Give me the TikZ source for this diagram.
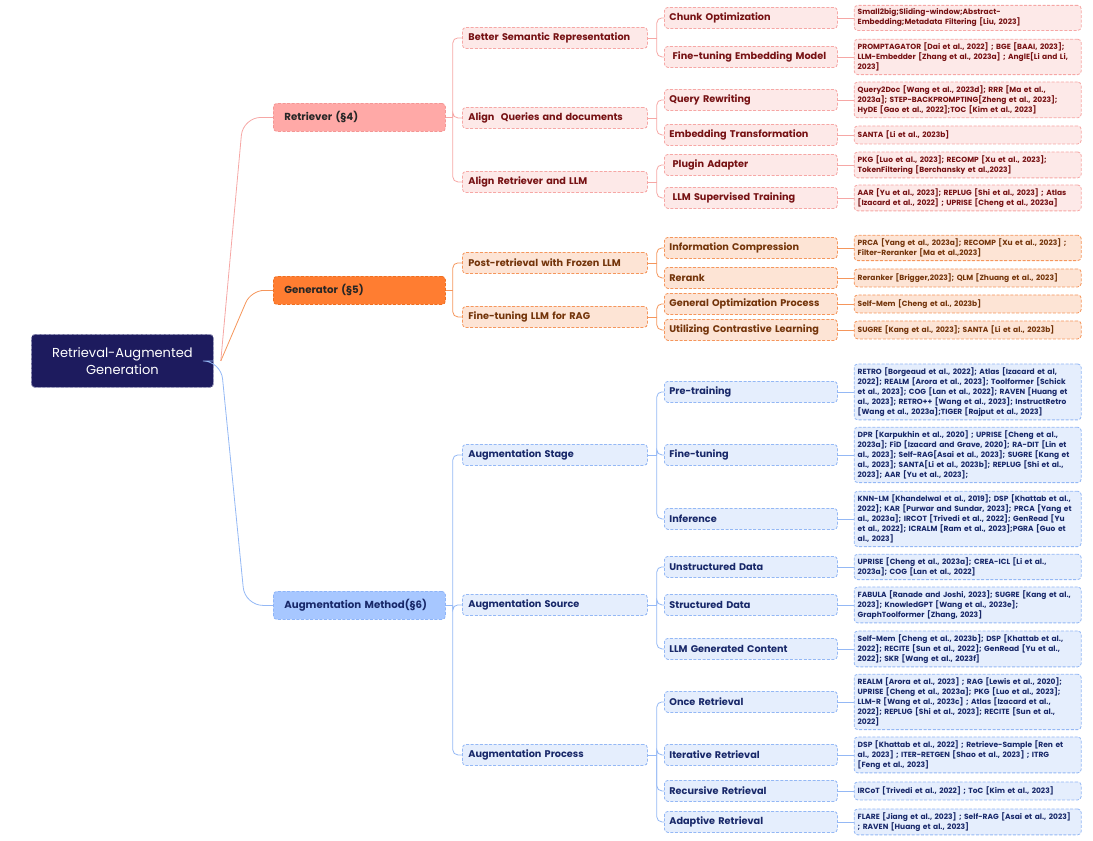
\documentclass[tikz,border=0pt]{standalone}
\usepackage{fontspec}
\setmainfont{Poppins}
\usepackage{tikz}
\usetikzlibrary{calc}

\definecolor{rootFill}{RGB}{29,27,94}
\definecolor{rootLine}{RGB}{150,150,185}
\definecolor{retTop}{RGB}{255,169,167}
\definecolor{retTopLine}{RGB}{244,150,148}
\definecolor{retFill}{RGB}{253,233,232}
\definecolor{retLine}{RGB}{246,167,165}
\definecolor{retText}{RGB}{118,17,19}
\definecolor{genTop}{RGB}{255,125,49}
\definecolor{genTopLine}{RGB}{240,110,30}
\definecolor{genFill}{RGB}{253,228,213}
\definecolor{genLine}{RGB}{245,150,92}
\definecolor{genText}{RGB}{115,52,10}
\definecolor{augTop}{RGB}{167,199,255}
\definecolor{augTopLine}{RGB}{141,180,248}
\definecolor{augFill}{RGB}{229,238,253}
\definecolor{augLine}{RGB}{148,184,245}
\definecolor{augText}{RGB}{24,40,105}

\begin{document}
\begin{tikzpicture}[x=1pt,y=1pt,yscale=-1,
  box/.style={rectangle, rounded corners=3.5pt, dash pattern=on 3pt off 1.6pt, line width=0.8pt, anchor=north west, align=left, inner ysep=0pt},
  topbox/.style={box, text width=150pt, inner xsep=11pt, minimum height=28pt, font=\bfseries\fontsize{10.2}{12}\selectfont},
  midbox/.style={box, text width=173pt, inner xsep=6pt, minimum height=21pt, font=\bfseries\fontsize{9.7}{11}\selectfont},
  subbox/.style={box, text width=163pt, inner xsep=5pt, minimum height=21pt, font=\bfseries\fontsize{9.7}{11}\selectfont},
  leafbox/.style={box, anchor=west, text width=220pt, inner xsep=3.5pt, inner ysep=3.5pt, minimum height=18pt, font=\bfseries\fontsize{7.5}{10}\selectfont},
  topR/.style={topbox, fill=retTop, draw=retTopLine, text=black!85},
  topO/.style={topbox, fill=genTop, draw=genTopLine, text=black!85},
  topB/.style={topbox, fill=augTop, draw=augTopLine, text=augText},
  boxR/.style={fill=retFill, draw=retLine, text=retText},
  boxO/.style={fill=genFill, draw=genLine, text=genText},
  boxB/.style={fill=augFill, draw=augLine, text=augText},
  conR/.style={draw=retLine, line width=0.8pt, rounded corners=5pt},
  conO/.style={draw=genLine, line width=0.8pt, rounded corners=5pt},
  conB/.style={draw=augLine, line width=0.8pt, rounded corners=5pt}]
\useasboundingbox (0,0) rectangle (1093,841);

% Root
\node[box, fill=rootFill, draw=rootLine, text=white, align=center, text width=170pt, inner xsep=6pt, minimum height=53pt, font=\fontsize{13}{16.5}\selectfont] (root) at (31,334) {Retrieval-Augmented\\Generation};

% Level 1
\node[topR] (ret) at (273,103) {Retriever (§4)};
\node[topO] (gen) at (273,276) {Generator (§5)};
\node[topB] (aug) at (273,591) {Augmentation Method(§6)};

\coordinate (rootJ) at ($(root.east)+(7,0)$);
\draw[conB, rounded corners=18pt] (root.east) -- (rootJ) -- ([xshift=-28pt]aug.west) -- (aug.west);
\draw[conR, rounded corners=18pt] (rootJ) -- ([xshift=-30pt]ret.west) -- (ret.west);
\draw[conO, rounded corners=13pt] (rootJ) -- ([xshift=-22pt]gen.west) -- (gen.west);

%%% Retriever branch
\node[midbox, boxR] (bsr) at (462,27) {Better Semantic Representation};
\node[midbox, boxR] (aqd) at (462,107) {Align\ \ Queries and documents};
\node[midbox, boxR] (arl) at (462,171) {Align Retriever and LLM};

\node[subbox, boxR] (chunk) at (664,7) {Chunk Optimization};
\node[subbox, boxR] (ftemb) at (664,46) {\ Fine-tuning Embedding Model};
\node[subbox, boxR] (qrw) at (664,89) {Query Rewriting};
\node[subbox, boxR] (embt) at (664,124) {Embedding Transformation};
\node[subbox, boxR] (plug) at (664,154) {\ Plugin Adapter};
\node[subbox, boxR] (llmst) at (664,187) {\ LLM Supervised Training};

\node[leafbox, boxR] (lChunk) at ([xshift=16pt]chunk.east) {Small2big;Sliding-window;Abstract-\\Embedding;Metadata Filtering [Liu, 2023]};
\node[leafbox, boxR] (lFtemb) at ([xshift=16pt]ftemb.east) {PROMPTAGATOR [Dai et al., 2022] ; BGE [BAAI, 2023];\\LLM-Embedder [Zhang et al., 2023a] ; AnglE[Li and Li,\\2023]};
\node[leafbox, boxR] (lQrw) at ([xshift=16pt]qrw.east) {Query2Doc [Wang et al., 2023d]; RRR [Ma et al.,\\2023a]; STEP-BACKPROMPTING[Zheng et al., 2023];\\HyDE [Gao et al., 2022];TOC [Kim et al., 2023]};
\node[leafbox, boxR] (lEmbt) at ([xshift=16pt]embt.east) {SANTA [Li et al., 2023b]};
\node[leafbox, boxR] (lPlug) at ([xshift=16pt]plug.east) {PKG [Luo et al., 2023]; RECOMP [Xu et al., 2023];\\TokenFiltering [Berchansky et al.,2023]};
\node[leafbox, boxR] (lLlmst) at ([xshift=16pt]llmst.east) {AAR [Yu et al., 2023]; REPLUG [Shi et al., 2023] ; Atlas\\{[Izacard et al., 2022]} ; UPRISE [Cheng et al., 2023a]};

\draw[conR] (ret.east) -- ++(7,0) coordinate (retJ);
\foreach \c in {bsr,aqd,arl} \draw[conR] (retJ) |- (\c.west);
\draw[conR] (bsr.east) -- ++(9,0) coordinate (bsrJ);
\foreach \c in {chunk,ftemb} \draw[conR] (bsrJ) |- (\c.west);
\draw[conR] (aqd.east) -- ++(9,0) coordinate (aqdJ);
\foreach \c in {qrw,embt} \draw[conR] (aqdJ) |- (\c.west);
\draw[conR] (arl.east) -- ++(9,0) coordinate (arlJ);
\foreach \c in {plug,llmst} \draw[conR] (arlJ) |- (\c.west);
\foreach \a/\b in {chunk/lChunk,ftemb/lFtemb,qrw/lQrw,embt/lEmbt,plug/lPlug,llmst/lLlmst}
  \draw[conR] (\a.east) -- (\b.west);

%%% Generator branch
\node[midbox, boxO] (post) at (462,252) {Post-retrieval with Frozen LLM};
\node[midbox, boxO] (ftllm) at (462,306) {Fine-tuning LLM for RAG};

\node[subbox, boxO] (infc) at (664,237) {Information Compression};
\node[subbox, boxO] (rerank) at (664,267) {Rerank};
\node[subbox, boxO] (genopt) at (664,293) {General Optimization Process};
\node[subbox, boxO] (contr) at (664,319) {Utilizing Contrastive Learning};

\node[leafbox, boxO] (lInfc) at ([xshift=16pt]infc.east) {PRCA [Yang et al., 2023a]; RECOMP [Xu et al., 2023] ;\\Filter-Reranker [Ma et al.,2023]};
\node[leafbox, boxO] (lRerank) at ([xshift=16pt]rerank.east) {Reranker [Brigger,2023]; QLM [Zhuang et al., 2023]};
\node[leafbox, boxO] (lGenopt) at ([xshift=16pt]genopt.east) {Self-Mem [Cheng et al., 2023b]};
\node[leafbox, boxO] (lContr) at ([xshift=16pt]contr.east) {SUGRE [Kang et al., 2023]; SANTA [Li et al., 2023b]};

\draw[conO] (gen.east) -- ++(7,0) coordinate (genJ);
\foreach \c in {post,ftllm} \draw[conO] (genJ) |- (\c.west);
\draw[conO] (post.east) -- ++(9,0) coordinate (postJ);
\foreach \c in {infc,rerank} \draw[conO] (postJ) |- (\c.west);
\draw[conO] (ftllm.east) -- ++(9,0) coordinate (ftllmJ);
\foreach \c in {genopt,contr} \draw[conO] (ftllmJ) |- (\c.west);
\foreach \a/\b in {infc/lInfc,rerank/lRerank,genopt/lGenopt,contr/lContr}
  \draw[conO] (\a.east) -- (\b.west);

%%% Augmentation branch
\node[midbox, boxB] (stage) at (462,444) {Augmentation Stage};
\node[midbox, boxB] (source) at (462,594) {Augmentation Source};
\node[midbox, boxB] (process) at (462,744) {Augmentation Process};

\node[subbox, boxB] (pre) at (664,381) {Pre-training};
\node[subbox, boxB] (ftun) at (664,444) {Fine-tuning};
\node[subbox, boxB] (infer) at (664,508) {Inference};
\node[subbox, boxB] (unst) at (664,556) {Unstructured Data};
\node[subbox, boxB] (stru) at (664,594) {Structured Data};
\node[subbox, boxB] (llmg) at (664,638) {LLM Generated Content};
\node[subbox, boxB] (once) at (664,691) {Once Retrieval};
\node[subbox, boxB] (iter) at (664,744) {Iterative Retrieval};
\node[subbox, boxB] (recu) at (664,780) {Recursive Retrieval};
\node[subbox, boxB] (adap) at (664,811) {Adaptive Retrieval};

\node[leafbox, boxB] (lPre) at ([xshift=16pt]pre.east) {RETRO [Borgeaud et al., 2022]; Atlas [Izacard et al,\\2022]; REALM [Arora et al., 2023]; Toolformer [Schick\\et al., 2023]; COG [Lan et al., 2022]; RAVEN [Huang et\\al., 2023]; RETRO++ [Wang et al., 2023]; InstructRetro\\{[Wang et al., 2023a]};TIGER [Rajput et al., 2023]};
\node[leafbox, boxB] (lFtun) at ([xshift=16pt]ftun.east) {DPR [Karpukhin et al., 2020] ; UPRISE [Cheng et al.,\\2023a]; FiD [Izacard and Grave, 2020]; RA-DIT [Lin et\\al., 2023]; Self-RAG[Asai et al., 2023]; SUGRE [Kang et\\al., 2023]; SANTA[Li et al., 2023b]; REPLUG [Shi et al.,\\2023]; AAR [Yu et al., 2023];};
\node[leafbox, boxB] (lInfer) at ([xshift=16pt]infer.east) {KNN-LM [Khandelwal et al., 2019]; DSP [Khattab et al.,\\2022]; KAR [Purwar and Sundar, 2023]; PRCA [Yang et\\al., 2023a]; IRCOT [Trivedi et al., 2022]; GenRead [Yu\\et al., 2022]; ICRALM [Ram et al., 2023];PGRA [Guo et\\al., 2023]};
\node[leafbox, boxB] (lUnst) at ([xshift=16pt]unst.east) {UPRISE [Cheng et al., 2023a]; CREA-ICL [Li et al.,\\2023a]; COG [Lan et al., 2022]};
\node[leafbox, boxB] (lStru) at ([xshift=16pt]stru.east) {FABULA [Ranade and Joshi, 2023]; SUGRE [Kang et al.,\\2023]; KnowledGPT [Wang et al., 2023e];\\GraphToolformer [Zhang, 2023]};
\node[leafbox, boxB] (lLlmg) at ([xshift=16pt]llmg.east) {Self-Mem [Cheng et al., 2023b]; DSP [Khattab et al.,\\2022]; RECITE [Sun et al., 2022]; GenRead [Yu et al.,\\2022]; SKR [Wang et al., 2023f]};
\node[leafbox, boxB] (lOnce) at ([xshift=16pt]once.east) {REALM [Arora et al., 2023] ; RAG [Lewis et al., 2020];\\UPRISE [Cheng et al., 2023a]; PKG [Luo et al., 2023];\\LLM-R [Wang et al., 2023c] ; Atlas [Izacard et al.,\\2022]; REPLUG [Shi et al., 2023]; RECITE [Sun et al.,\\2022]};
\node[leafbox, boxB] (lIter) at ([xshift=16pt]iter.east) {DSP [Khattab et al., 2022] ; Retrieve-Sample [Ren et\\al., 2023] ; ITER-RETGEN [Shao et al., 2023] ; ITRG\\{[Feng et al., 2023]}};
\node[leafbox, boxB] (lRecu) at ([xshift=16pt]recu.east) {IRCoT [Trivedi et al., 2022] ; ToC [Kim et al., 2023]};
\node[leafbox, boxB] (lAdap) at ([xshift=16pt]adap.east) {FLARE [Jiang et al., 2023] ; Self-RAG [Asai et al., 2023]\\; RAVEN [Huang et al., 2023]};

\draw[conB] (aug.east) -- ++(7,0) coordinate (augJ);
\foreach \c in {stage,source,process} \draw[conB] (augJ) |- (\c.west);
\draw[conB] (stage.east) -- ++(9,0) coordinate (stageJ);
\foreach \c in {pre,ftun,infer} \draw[conB] (stageJ) |- (\c.west);
\draw[conB] (source.east) -- ++(9,0) coordinate (sourceJ);
\foreach \c in {unst,stru,llmg} \draw[conB] (sourceJ) |- (\c.west);
\draw[conB] (process.east) -- ++(9,0) coordinate (processJ);
\foreach \c in {once,iter,recu,adap} \draw[conB] (processJ) |- (\c.west);
\foreach \a/\b in {pre/lPre,ftun/lFtun,infer/lInfer,unst/lUnst,stru/lStru,llmg/lLlmg,once/lOnce,iter/lIter,recu/lRecu,adap/lAdap}
  \draw[conB] (\a.east) -- (\b.west);

\end{tikzpicture}
\end{document}
